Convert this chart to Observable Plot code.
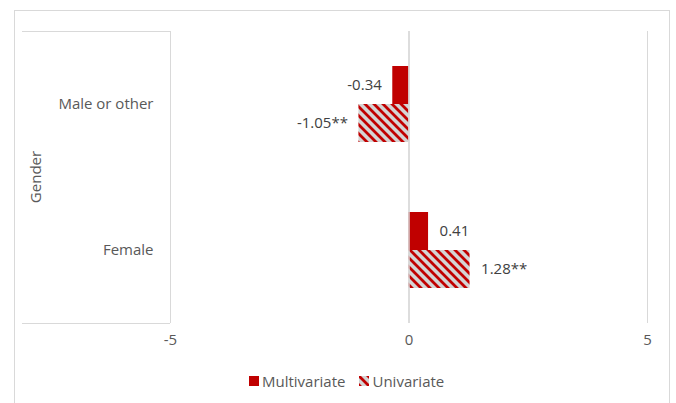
<!DOCTYPE html>
<html>
<head>
<meta charset="utf-8">
<script src="https://cdn.jsdelivr.net/npm/d3@7"></script>
<script src="https://cdn.jsdelivr.net/npm/@observablehq/plot@0.6"></script>
<style>
  html, body { margin: 0; padding: 0; background: #fff; }
  #wrap { position: relative; width: 676px; height: 403px; overflow: hidden; font-family: "Open Sans", Lato, sans-serif; color: #595959; }
  #border { position: absolute; left: 14px; top: 10px; width: 656px; height: 420px; border: 1px solid #D9D9D9; box-sizing: border-box; }
  #catbox { position: absolute; left: 22px; top: 31px; width: 148px; height: 293px; border-top: 1px solid #D9D9D9; border-bottom: 1px solid #D9D9D9; box-sizing: border-box; }
  #chart { position: absolute; left: 0; top: 0; }
  #title { position: absolute; left: 35px; top: 177px; transform: translate(-50%, -50%) rotate(-90deg); font-size: 15px; color: #595959; white-space: nowrap; }
  #legend { position: absolute; left: 249px; top: 371px; display: flex; align-items: center; font-size: 15px; color: #595959; }
  .sw { width: 10px; height: 10px; margin-right: 3px; }
  .item { display: flex; align-items: center; margin-right: 14px; }
</style>
</head>
<body>
<div id="wrap">
  <div id="border"></div>
  <div id="catbox"></div>
  <div id="chart"></div>
  <div id="title"></div>
  <div id="legend"></div>
</div>
<script>
const categories = ["Male or other", "Female"];
const series = ["Multivariate", "Univariate"];
const multivariate = [-0.34, 0.41];
const univariate = [-1.05, 1.28];
const multivariateLabels = ["-0.34", "0.41"];
const univariateLabels = ["-1.05**", "1.28**"];
const xTicks = [-5, 0, 5];
const axisTitle = "Gender";
const fills = ["#C00000", "url(#hatch)"];

const data = [];
categories.forEach((c, i) => {
  data.push({category: c, series: series[0], value: multivariate[i], label: multivariateLabels[i]});
  data.push({category: c, series: series[1], value: univariate[i], label: univariateLabels[i]});
});

document.getElementById("title").textContent = axisTitle;
const legend = document.getElementById("legend");
series.forEach((s, i) => {
  const item = document.createElement("div");
  item.className = "item";
  item.innerHTML = `<svg class="sw" width="10" height="10"><rect width="10" height="10" fill="${fills[i]}"></rect></svg><span></span>`;
  item.querySelector("span").textContent = s;
  legend.appendChild(item);
});

const chart = Plot.plot({
  width: 676,
  height: 355,
  marginLeft: 170,
  marginRight: 29,
  marginTop: 31,
  marginBottom: 32,
  style: {fontFamily: "'Open Sans', Lato, sans-serif", fontSize: "15px", color: "#595959", background: "transparent"},
  x: {domain: [-5, 5], ticks: xTicks, tickSize: 0, tickPadding: 11, label: null, tickFormat: d => String(d)},
  y: {domain: series, axis: null, paddingInner: 0, paddingOuter: 0.9},
  fy: {domain: categories, padding: 0, label: null, tickSize: 0, tickPadding: 17},
  marks: [
    Plot.ruleX(xTicks, {stroke: "#D9D9D9", strokeWidth: 1}),
    Plot.barX(data.filter(d => d.series === series[0]), {x: "value", y: "series", fy: "category", fill: fills[0]}),
    Plot.barX(data.filter(d => d.series === series[1]), {x: "value", y: "series", fy: "category", fill: fills[1]}),
    Plot.ruleX([0], {stroke: "#D9D9D9", strokeWidth: 1.5}),
    Plot.text(data.filter(d => d.value < 0), {x: "value", y: "series", fy: "category", text: "label", textAnchor: "end", dx: -11, fill: "#404040"}),
    Plot.text(data.filter(d => d.value >= 0), {x: "value", y: "series", fy: "category", text: "label", textAnchor: "start", dx: 11, fill: "#404040"})
  ]
});

const svg = d3.select(chart);
const defs = svg.insert("defs", ":first-child");
const pat = defs.append("pattern").attr("id", "hatch").attr("patternUnits", "userSpaceOnUse").attr("width", 9).attr("height", 9);
pat.append("rect").attr("width", 9).attr("height", 9).attr("fill", "#D4D4D4");
pat.append("path").attr("d", "M-2,-2L11,11M-2,7L2,11M7,-2L11,2").attr("stroke", "#C00000").attr("stroke-width", 2.8);

document.getElementById("chart").appendChild(chart);
</script>
</body>
</html>
